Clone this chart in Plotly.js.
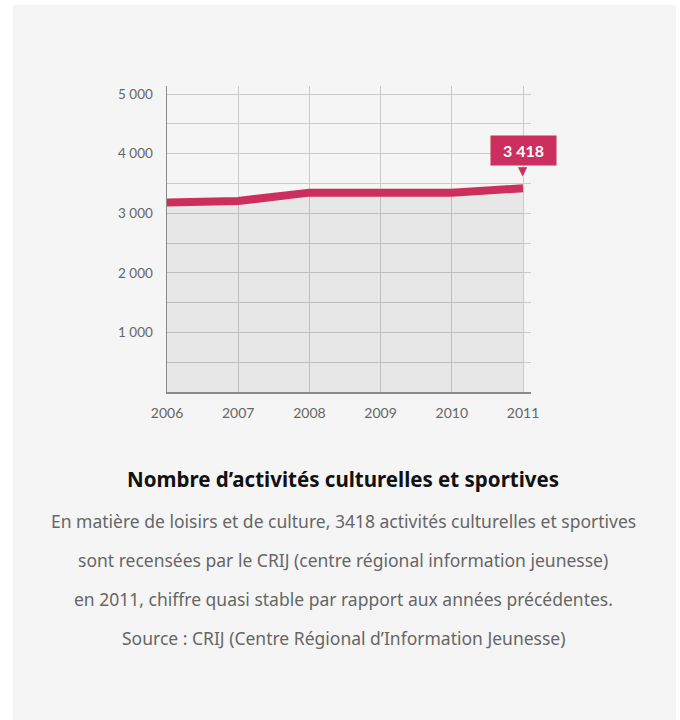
<!DOCTYPE html>
<html><head><meta charset="utf-8">
<script src="https://cdn.plot.ly/plotly-3.0.1.min.js"></script>
<style>
html,body{margin:0;padding:0;background:#ffffff;width:680px;height:720px;overflow:hidden}
#panel{position:absolute;left:13px;top:5px;width:663px;height:715px;background:#f5f5f5}
#chart{position:absolute;left:0;top:0;width:680px;height:720px}
</style></head>
<body><div id="panel"></div><div id="chart"></div>
<script>
const years = [2006, 2007, 2008, 2009, 2010, 2011];
const activites = [3180, 3205, 3345, 3345, 3345, 3418];
const yTickVals = [1000, 2000, 3000, 4000, 5000];
const yTickText = ['1 000', '2 000', '3 000', '4 000', '5 000'];
const calloutText = '3 418';
const chartTitle = 'Nombre d’activités culturelles et sportives';
const bodyLines = [
  'En matière de loisirs et de culture, 3418 activités culturelles et sportives',
  'sont recensées par le CRIJ (centre régional information jeunesse)',
  'en 2011, chiffre quasi stable par rapport aux années précédentes.',
  'Source : CRIJ (Centre Régional d’Information Jeunesse)'
];

const red = '#cc2f5d';
const L = 167, R = 531, T = 86, B = 392;
const W = R - L, H = B - T;
const px2x = p => (p - L) / W;
const py2y = p => (B - p) / H;
const font = '"Noto Sans", sans-serif';
const tfont = 'Lato, "Noto Sans", sans-serif';

const ann = [];
const last = years.length - 1;
ann.push({x: years[last], y: activites[last], xref: 'x', yref: 'y', text: '<b>' + calloutText + '</b>',
  showarrow: false, xanchor: 'center', yanchor: 'bottom', yshift: 22, width: 51, height: 15,
  bgcolor: red, borderpad: 7, font: {family: tfont, size: 16, color: '#ffffff'}});
ann.push({x: years[last], y: activites[last], xref: 'x', yref: 'y', text: '▼',
  showarrow: false, xanchor: 'center', yanchor: 'top', yshift: 26,
  font: {family: 'DejaVu Sans', size: 12, color: red}});
ann.push({x: px2x(343), y: py2y(479), xref: 'paper', yref: 'paper', text: '<b>' + chartTitle + '</b>',
  showarrow: false, xanchor: 'center', yanchor: 'middle', font: {family: font, size: 20.5, color: '#111111'}});
const lineY = [521, 560, 599, 638];
bodyLines.forEach((t, i) => ann.push({x: px2x(343), y: py2y(lineY[i]), xref: 'paper', yref: 'paper', text: t,
  showarrow: false, xanchor: 'center', yanchor: 'middle', font: {family: font, size: 17.5, color: '#666666'}}));

Plotly.newPlot('chart', [{
  x: years, y: activites, type: 'scatter', mode: 'lines',
  line: {color: red, width: 8}, fill: 'tozeroy', fillcolor: 'rgba(0,0,0,0.055)',
  hoverinfo: 'skip'
}], {
  width: 680, height: 720,
  margin: {l: L, r: 680 - R, t: T, b: 720 - B, pad: 0},
  paper_bgcolor: 'rgba(0,0,0,0)', plot_bgcolor: 'rgba(0,0,0,0)',
  showlegend: false,
  xaxis: {range: [2006, 2006 + W / 71.2], tickvals: years, ticktext: years.map(String),
    showgrid: true, gridcolor: '#cbcbcb', gridwidth: 1, zeroline: false,
    showline: true, linecolor: '#8a8a8a', linewidth: 1.5, ticks: 'outside', ticklen: 8, tickcolor: 'rgba(0,0,0,0)',
    tickfont: {family: tfont, size: 14, color: '#666666'}, fixedrange: true},
  yaxis: {range: [0, H / 59.6 * 1000], tickvals: yTickVals, ticktext: yTickText,
    showgrid: true, gridcolor: '#cbcbcb', gridwidth: 1, zeroline: false,
    minor: {dtick: 500, tick0: 0, showgrid: true, gridcolor: '#cbcbcb', gridwidth: 1, ticks: ''},
    showline: true, linecolor: '#8a8a8a', linewidth: 1.5, ticklen: 10, tickcolor: 'rgba(0,0,0,0)',
    ticks: 'outside',
    tickfont: {family: tfont, size: 13.5, color: '#666666'}, fixedrange: true},
  annotations: ann
}, {displayModeBar: false, staticPlot: true});
</script></body></html>
